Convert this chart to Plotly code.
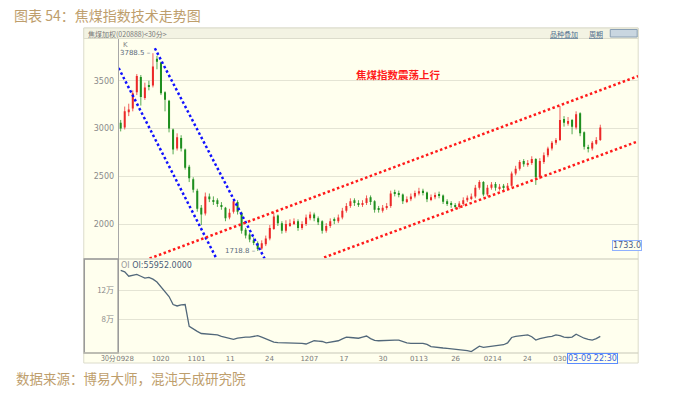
import plotly.graph_objects as go

# ---------------- data ----------------
bar_index = list(range(120))

open_ = [3060, 3010, 3170, 3210, 3380, 3540, 3320, 3450, 3450, 3730,
         3690, 3380, 3290, 2990, 2790, 2900, 2780, 2600, 2470, 2350,
         2170, 2110, 2290, 2250, 2250, 2200, 2170, 2070, 2130, 2230,
         2120, 1940, 1890, 1830, 1800, 1745, 1790, 1850, 1950, 2090,
         2010, 1930, 1990, 2010, 2030, 1960, 2000, 2060, 2100, 2060,
         2030, 1930, 1980, 2040, 2030, 2070, 2140, 2190, 2250, 2220,
         2200, 2220, 2280, 2240, 2160, 2140, 2170, 2190, 2330, 2320,
         2310, 2240, 2260, 2290, 2320, 2350, 2330, 2260, 2280, 2310,
         2300, 2240, 2220, 2200, 2180, 2210, 2250, 2270, 2290, 2380,
         2440, 2310, 2380, 2420, 2370, 2400, 2380, 2400, 2530, 2580,
         2660, 2620, 2640, 2680, 2490, 2650, 2720, 2790, 2850, 2880,
         3100, 3050, 3090, 3010, 3160, 2960, 2800, 2790, 2840, 2880]

high = [3090, 3230, 3260, 3400, 3570, 3560, 3480, 3500, 3788.5, 3760,
        3700, 3390, 3300, 3000, 2950, 2930, 2790, 2620, 2490, 2370,
        2200, 2330, 2320, 2290, 2270, 2230, 2180, 2160, 2265, 2250,
        2130, 1960, 1910, 1860, 1820, 1830, 1880, 1990, 2120, 2100,
        2030, 2040, 2050, 2060, 2050, 2030, 2100, 2130, 2120, 2080,
        2040, 2010, 2060, 2070, 2100, 2170, 2220, 2270, 2270, 2250,
        2250, 2300, 2300, 2250, 2190, 2200, 2220, 2350, 2360, 2350,
        2320, 2290, 2320, 2350, 2380, 2370, 2340, 2310, 2330, 2340,
        2310, 2260, 2240, 2220, 2240, 2280, 2300, 2320, 2410, 2460,
        2450, 2410, 2440, 2440, 2420, 2420, 2430, 2550, 2610, 2670,
        2680, 2670, 2710, 2690, 2690, 2750, 2810, 2870, 2900, 3235,
        3130, 3120, 3100, 3180, 3170, 2970, 2830, 2870, 2910, 3040]

low = [2970, 2990, 3130, 3180, 3350, 3240, 3300, 3400, 3430, 3620,
       3350, 3180, 2960, 2730, 2770, 2760, 2570, 2440, 2330, 2130,
       1990, 2090, 2230, 2200, 2180, 2150, 2030, 2050, 2110, 2100,
       1900, 1850, 1810, 1780, 1718.8, 1730, 1770, 1830, 1940, 1980,
       1900, 1910, 1970, 1990, 1930, 1940, 1980, 2040, 2030, 1990,
       1900, 1910, 1960, 2000, 2010, 2050, 2120, 2170, 2190, 2180,
       2180, 2200, 2200, 2120, 2120, 2120, 2150, 2170, 2290, 2280,
       2210, 2220, 2240, 2270, 2300, 2300, 2230, 2240, 2260, 2270,
       2210, 2190, 2170, 2160, 2160, 2190, 2230, 2250, 2270, 2360,
       2290, 2290, 2360, 2350, 2350, 2350, 2360, 2390, 2510, 2560,
       2600, 2600, 2620, 2410, 2470, 2630, 2700, 2770, 2830, 2870,
       3020, 3030, 2940, 2990, 2920, 2780, 2750, 2770, 2830, 2870]

close = [3000, 3180, 3200, 3370, 3550, 3330, 3430, 3440, 3650, 3700,
         3370, 3300, 3000, 2780, 2910, 2790, 2590, 2480, 2360, 2160,
         2100, 2290, 2260, 2240, 2210, 2180, 2060, 2120, 2240, 2130,
         1930, 1880, 1840, 1810, 1740, 1800, 1850, 1960, 2080, 2010,
         1930, 2000, 2010, 2030, 1960, 2000, 2070, 2100, 2060, 2020,
         1930, 1980, 2030, 2035, 2070, 2140, 2190, 2240, 2220, 2210,
         2220, 2270, 2230, 2150, 2150, 2170, 2190, 2320, 2320, 2310,
         2240, 2260, 2290, 2325, 2345, 2330, 2260, 2280, 2305, 2300,
         2235, 2220, 2200, 2180, 2215, 2250, 2275, 2290, 2380, 2440,
         2310, 2380, 2415, 2380, 2390, 2380, 2400, 2530, 2580, 2650,
         2625, 2640, 2680, 2490, 2660, 2720, 2790, 2850, 2880, 3090,
         3060, 3080, 3020, 3150, 2950, 2810, 2790, 2850, 2880, 3010]

open_interest = [147000, 145000, 139000, 140500, 141500, 139000, 136500, 137500, 135000, 131000,
                 124000, 117500, 111000, 100000, 98000, 99500, 100000, 70000, 66000, 63000,
                 60000, 59500, 59000, 59500, 58000, 56000, 54500, 53500, 52000, 53500,
                 54500, 55000, 55000, 55500, 57000, 55000, 53000, 50500, 48000, 47500,
                 47500, 47000, 47500, 47500, 47000, 46500, 45500, 48000, 50000, 49500,
                 49000, 47000, 48000, 49500, 50000, 52500, 55000, 54500, 54000, 53500,
                 55000, 56500, 53000, 50500, 50000, 50500, 50500, 51000, 51000, 51000,
                 49000, 47000, 46500, 47000, 46500, 46500, 45000, 42000, 41000, 40500,
                 40000, 39500, 39000, 38500, 38000, 37200, 36500, 35000, 38500, 42500,
                 41000, 41500, 42000, 42500, 43000, 44500, 47000, 54500, 56000, 57000,
                 57500, 58000, 55500, 51000, 53000, 54500, 55500, 56000, 58000, 57000,
                 55000, 54500, 55000, 59000, 56000, 53500, 52000, 51000, 53000, 55952]

x_tick_pos = [1.1, 9.9, 18.8, 27.2, 36.9, 46.8, 55.4, 65.1, 74.0, 83.1, 92.3, 100.9, 109.0]
x_tick_labels = ['0928', '1020', '1101', '11', '24', '1207', '17', '30', '0113', '26', '0214', '24', '030']
price_ticks = [2000, 2500, 3000, 3500]
oi_ticks = [80000, 120000]
oi_tick_labels = ['8万', '12万']

# trend lines: (bar index, price) end points
blue_line_1 = ([-0.5, 23.75], [3633, 1640])
blue_line_2 = ([8.48, 35.7], [3840, 1640])
red_line_up = ([7.17, 128.4], [1640, 3549])
red_line_low = ([50.47, 128.4], [1651, 2867])

peak_idx, peak_val = 8, 3788.5
trough_idx, trough_val = 34, 1718.8

# ---------------- figure ----------------
W, H = 700, 395
def fx(px):
    return px / W
def fy(py):
    return 1 - py / H

CREAM = '#FFFFEE'
CJK = 'Noto Sans CJK SC'
TAN = '#BE9E6C'
UP = '#EC2A2A'
DOWN = '#1F8F1F'

fig = go.Figure()

# candles drawn as wick lines + thin body bars
for is_up, col in [(True, UP), (False, DOWN)]:
    sel = [i for i in bar_index if (close[i] >= open_[i]) == is_up]
    wx, wy = [], []
    for i in sel:
        wx += [i, i, None]
        wy += [low[i], high[i], None]
    fig.add_trace(go.Scatter(x=wx, y=wy, mode='lines', xaxis='x', yaxis='y',
                             line=dict(color=col, width=1), opacity=0.75,
                             showlegend=False, hoverinfo='skip'))
    fig.add_trace(go.Bar(x=sel, base=[min(open_[i], close[i]) for i in sel],
                         y=[max(abs(close[i] - open_[i]), 8) for i in sel],
                         width=0.5, marker=dict(color=col, line=dict(width=0)),
                         xaxis='x', yaxis='y', showlegend=False, hoverinfo='skip'))

for (xs, ys), col in [(blue_line_1, '#1010FF'), (blue_line_2, '#1010FF'),
                      (red_line_up, '#FF1A1A'), (red_line_low, '#FF1A1A')]:
    fig.add_trace(go.Scatter(x=xs, y=ys, mode='lines', xaxis='x', yaxis='y',
                             line=dict(color=col, width=2.5, dash='2.5px,2.5px'),
                             showlegend=False, hoverinfo='skip'))

fig.add_trace(go.Scatter(x=bar_index, y=open_interest, mode='lines', xaxis='x2', yaxis='y2',
                         line=dict(color='#52687A', width=1.3), showlegend=False, hoverinfo='skip'))

x_range = [-0.5, 128.4]
shapes = [
    dict(type='rect', xref='paper', yref='paper', x0=fx(82), x1=fx(638), y0=fy(363), y1=fy(28),
         fillcolor=CREAM, line=dict(color='#DCDCCC', width=1), layer='below'),
    dict(type='rect', xref='paper', yref='paper', x0=fx(82), x1=fx(638), y0=fy(38.5), y1=fy(28),
         fillcolor='#F3F3E3', line=dict(color='#DCDCCC', width=1), layer='below'),
    dict(type='line', xref='paper', yref='paper', x0=fx(82), x1=fx(638), y0=fy(259), y1=fy(259),
         line=dict(color='#C8C8B8', width=1.2)),
    dict(type='rect', xref='paper', yref='paper', x0=fx(82.5), x1=fx(116.5), y0=fy(353), y1=fy(259),
         line=dict(color='#9A9A9A', width=1.5)),
    dict(type='line', xref='paper', yref='paper', x0=fx(82), x1=fx(638), y0=fy(353), y1=fy(353),
         line=dict(color='#C8C8B8', width=1.2)),
    dict(type='rect', xref='paper', yref='paper', x0=fx(610), x1=fx(637), y0=fy(37), y1=fy(29.5),
         fillcolor='#C9D6E0', line=dict(color='#8AA0B4', width=1)),
]

annotations = [
    dict(x=fx(10), y=fy(15), xref='paper', yref='paper', xanchor='left', yanchor='middle',
         text='图表 54：焦煤指数技术走势图', showarrow=False,
         font=dict(family=CJK, size=14, color=TAN)),
    dict(x=fx(12), y=fy(378), xref='paper', yref='paper', xanchor='left', yanchor='middle',
         text='数据来源：博易大师，混沌天成研究院', showarrow=False,
         font=dict(family=CJK, size=13.5, color=TAN)),
    dict(x=fx(84), y=fy(33.5), xref='paper', yref='paper', xanchor='left', yanchor='middle',
         text='焦煤加权(020888)<30分>', showarrow=False,
         font=dict(family=CJK, size=7, color='#7A7A7A')),
    dict(x=fx(548), y=fy(33.5), xref='paper', yref='paper', xanchor='left', yanchor='middle',
         text='<u>品种叠加</u>', showarrow=False,
         font=dict(family=CJK, size=7, color='#4F6F8F')),
    dict(x=fx(587), y=fy(33.5), xref='paper', yref='paper', xanchor='left', yanchor='middle',
         text='<u>周期</u>', showarrow=False,
         font=dict(family=CJK, size=7, color='#4F6F8F')),
    dict(x=fx(119), y=fy(45), xref='paper', yref='paper', xanchor='left', yanchor='middle',
         text='K', showarrow=False, font=dict(family='DejaVu Sans', size=7, color='#888888')),
    dict(x=peak_idx, y=peak_val, xref='x', yref='y', xanchor='right', yanchor='middle',
         text='%.1f –' % peak_val, showarrow=False,
         font=dict(family='DejaVu Sans', size=7, color='#5B6B7B')),
    dict(x=trough_idx, y=trough_val, xref='x', yref='y', xanchor='right', yanchor='middle',
         text='%.1f –' % trough_val, showarrow=False,
         font=dict(family='DejaVu Sans', size=7, color='#5B6B7B')),
    dict(x=fx(398), y=fy(74), xref='paper', yref='paper', xanchor='center', yanchor='middle',
         text='<b>焦煤指数震荡上行</b>', showarrow=False,
         font=dict(family=CJK, size=10.5, color='#FF1A1A')),
    dict(x=fx(117), y=fy(265), xref='paper', yref='paper', xanchor='left', yanchor='middle',
         text='<span style="color:#9A9A9A">OI</span> <span style="color:#4A5C78">OI:%.4f</span>' % open_interest[-1],
         showarrow=False, font=dict(family='DejaVu Sans', size=8, color='#4A5C78')),
    dict(x=fx(107), y=fy(358), xref='paper', yref='paper', xanchor='center', yanchor='middle',
         text='30分', showarrow=False, font=dict(family=CJK, size=7, color='#777777')),
    dict(x=fx(592.5), y=fy(358), xref='paper', yref='paper', xanchor='center', yanchor='middle',
         text='03-09 22:30', showarrow=False, bgcolor=CREAM, bordercolor='#5B8CFF', borderwidth=1,
         borderpad=0, font=dict(family='DejaVu Sans', size=8, color='#3A66E0')),
    dict(x=fx(627), y=fy(245.5), xref='paper', yref='paper', xanchor='center', yanchor='middle',
         text='1733.0', showarrow=False, bgcolor=CREAM, bordercolor='#8FB0FF', borderwidth=1,
         borderpad=0, font=dict(family='DejaVu Sans', size=8, color='#4A5C8A')),
]

fig.update_layout(
    width=W, height=H, margin=dict(l=0, r=0, t=0, b=0),
    paper_bgcolor='white', plot_bgcolor=CREAM, showlegend=False, barmode='overlay',
    xaxis=dict(domain=[fx(117), fx(638)], range=x_range, anchor='y', showticklabels=False,
               showgrid=False, zeroline=False, ticks=''),
    yaxis=dict(domain=[fy(258.5), fy(39)], range=[1640, 3937], anchor='x',
               tickvals=price_ticks, ticktext=[str(v) for v in price_ticks],
               tickfont=dict(family='DejaVu Sans', size=8, color='#8A8A8A'),
               gridcolor='#E4E4D4', gridwidth=1.2, zeroline=False,
               showline=True, linecolor='#A8A8A8', linewidth=1, ticks='', ticklabelstandoff=2),
    xaxis2=dict(domain=[fx(117), fx(638)], range=x_range, anchor='y2',
                tickvals=x_tick_pos, ticktext=x_tick_labels,
                tickfont=dict(family='DejaVu Sans', size=7, color='#7A7A7A'),
                showgrid=False, zeroline=False, ticks='', ticklabelstandoff=0),
    yaxis2=dict(domain=[fy(353), fy(259)], range=[33100, 162800], anchor='x2',
                tickvals=oi_ticks, ticktext=oi_tick_labels,
                tickfont=dict(family=CJK, size=8, color='#8A8A8A'),
                gridcolor='#E4E4D4', gridwidth=1.2, zeroline=False,
                showline=True, linecolor='#A8A8A8', linewidth=1, ticks='', ticklabelstandoff=2),
    shapes=shapes, annotations=annotations,
)

fig.write_html('out.html', config={'displayModeBar': False},
               post_script="document.body.style.margin='0';document.body.style.overflow='hidden';")
